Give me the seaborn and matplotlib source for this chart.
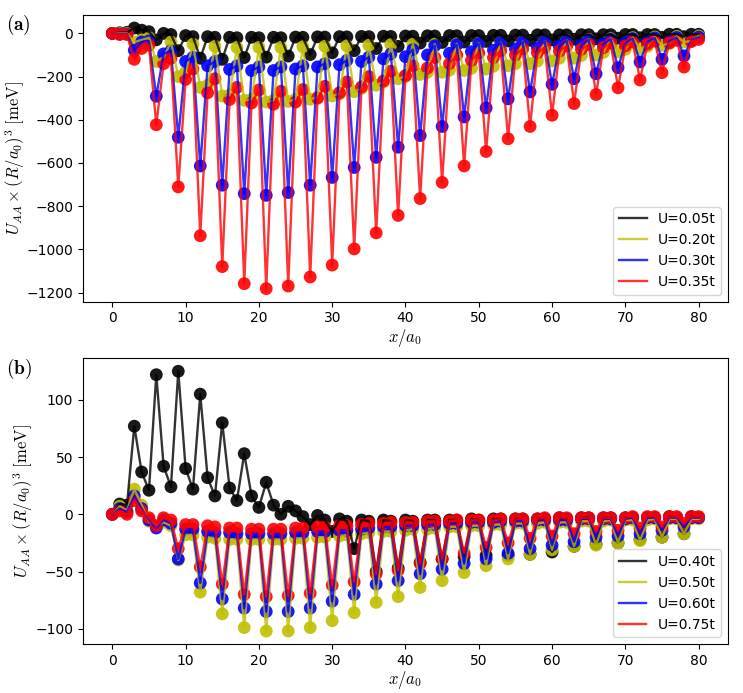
import numpy as np
import matplotlib
matplotlib.use("Agg")
import matplotlib.pyplot as plt
import seaborn as sns

plt.rcParams['mathtext.fontset'] = 'cm'

x = np.arange(81)

# panel (a)
labels_a = ["U=0.05t", "U=0.20t", "U=0.30t", "U=0.35t"]
u005 = [0, 3, 5, 25, 15, 8, -30, 0, -5, -80, -10, -15, -115, -15, -18, -120, -18, -20,
        -112, -18, -20, -110, -18, -20, -105, -17, -18, -98, -16, -17, -90, -15, -16,
        -80, -14, -15, -70, -13, -14, -60, -12, -13, -45, -11, -12, -42, -10, -11,
        -40, -10, -10, -37, -9, -9, -35, -8, -8, -32, -7, -7, -30, -7, -7, -27, -6, -6,
        -25, -6, -6, -22, -5, -5, -20, -5, -5, -18, -4, -4, -15, -4, -4]
u020 = [0, 0, 0, -40, -30, -20, -130, -110, -40, -200, -180, -50, -250, -240, -60,
        -290, -285, -65, -310, -305, -65, -318, -310, -65, -315, -305, -62, -305, -295,
        -60, -290, -280, -58, -270, -255, -55, -240, -225, -52, -210, -200, -50, -190,
        -180, -50, -180, -170, -48, -172, -162, -45, -165, -152, -42, -150, -140, -38,
        -140, -128, -35, -128, -115, -32, -115, -102, -28, -100, -88, -24, -85, -74, -20,
        -70, -60, -17, -55, -47, -14, -40, -35, -12]
u030 = [0, -3, -3, -78, -40, -35, -291, -95, -80, -481, -130, -110, -614, -150, -130,
        -703, -167, -150, -742, -172, -155, -750, -172, -155, -737, -165, -150, -703,
        -155, -140, -667, -145, -125, -621, -130, -110, -574, -118, -95, -527, -108, -75,
        -473, -100, -57, -431, -92, -52, -387, -85, -47, -345, -78, -43, -303, -72, -40,
        -271, -66, -36, -236, -60, -33, -210, -55, -30, -187, -50, -27, -159, -45, -24,
        -132, -40, -21, -120, -36, -19, -104, -32, -17]
u035 = [0, -5, -5, -120, -70, -55, -423, -140, -115, -711, -213, -165, -937, -275, -210,
        -1080, -306, -250, -1159, -322, -262, -1182, -328, -268, -1170, -318, -260, -1128,
        -300, -245, -1073, -275, -225, -998, -248, -200, -924, -220, -175, -843, -195,
        -150, -765, -160, -112, -690, -140, -100, -614, -125, -90, -547, -112, -80, -488,
        -100, -72, -431, -90, -65, -379, -82, -58, -325, -74, -52, -283, -66, -46, -252,
        -58, -40, -216, -50, -36, -182, -44, -32, -156, -38, -28]

# panel (b)
labels_b = ["U=0.40t", "U=0.50t", "U=0.60t", "U=0.75t"]
u040 = [0, 9, 8, 77, 37, 21, 122, 42, 24, 125, 40, 22, 105, 32, 16, 80, 23, 12, 53, 16,
        6, 28, 8, 0, 7, 3, -2, -9, -1, -5, -15, -4, -6, -30, -5, -6, -50, -5, -6, -47, -5,
        -6, -42, -5, -5, -39, -5, -5, -37, -4, -5, -36, -4, -4, -36, -4, -4, -35, -4, -4,
        -33, -3, -4, -28, -3, -3, -26, -3, -3, -25, -3, -3, -22, -3, -3, -20, -2, -3, -17,
        -2, -3]
u050 = [0, 7, 3, 22, 8, -6, -10, -7, -10, -40, -18, -18, -68, -20, -21, -87, -22, -22,
        -99, -22, -22, -102, -22, -22, -102, -21, -21, -99, -20, -20, -93, -19, -18, -86,
        -17, -16, -77, -15, -15, -72, -14, -13, -64, -13, -12, -58, -11, -11, -51, -10,
        -10, -45, -9, -9, -39, -8, -8, -35, -8, -7, -31, -7, -7, -28, -6, -6, -27, -6, -5,
        -25, -5, -5, -23, -5, -4, -20, -4, -4, -17, -4, -4]
u060 = [0, 5, 2, 16, 5, -5, -12, -5, -8, -39, -13, -13, -60, -15, -16, -74, -16, -17,
        -82, -17, -17, -85, -17, -17, -85, -16, -16, -82, -15, -15, -76, -14, -14, -70,
        -13, -12, -61, -11, -11, -58, -10, -10, -52, -9, -9, -48, -8, -8, -43, -7, -7, -39,
        -7, -6, -34, -6, -6, -30, -5, -5, -27, -5, -5, -24, -4, -4, -20, -4, -4, -19, -4,
        -3, -17, -3, -3, -14, -3, -3, -11, -3, -3]
u075 = [0, 3, 0, 12, 3, -3, -10, -3, -5, -30, -9, -9, -46, -10, -11, -61, -12, -12, -70,
        -13, -13, -72, -13, -13, -71, -12, -12, -69, -11, -11, -62, -10, -10, -59, -9, -8,
        -52, -8, -7, -49, -7, -7, -43, -6, -6, -39, -6, -5, -34, -5, -5, -29, -5, -4, -25,
        -4, -4, -21, -4, -3, -19, -3, -3, -17, -3, -3, -15, -3, -3, -14, -3, -2, -12, -2,
        -2, -11, -2, -2, -8, -2, -2]

colors = ["k", "y", "b", "r"]

fig = plt.figure(figsize=(7.43, 6.93), dpi=100)
ax1 = fig.add_axes([0.1117, 0.5647, 0.8681, 0.4137])
ax2 = fig.add_axes([0.1117, 0.0707, 0.8681, 0.4123])


def draw(ax, series, labels):
    for y, lab, c in zip(series, labels, colors):
        sns.lineplot(x=x, y=y, color=c, label=lab, lw=1.7, alpha=0.8, ax=ax)
        sns.scatterplot(x=x, y=y, color=c, s=85, alpha=0.9, edgecolor="none",
                        legend=False, ax=ax)
    ax.set_xlabel(r"$x/a_0$", fontsize=12, labelpad=1)
    ax.set_ylabel(r"$U_{AA}\times(R/a_0)^3\ [\mathrm{meV}]$", fontsize=12, labelpad=0)
    ax.set_xticks(range(0, 81, 10))
    ax.legend(loc="lower right", fontsize=10)


draw(ax1, [u005, u020, u030, u035], labels_a)
draw(ax2, [u040, u050, u060, u075], labels_b)
ax1.set_yticks(range(-1200, 1, 200))
ax2.set_yticks(range(-100, 101, 50))

fig.text(0.008, 0.964, r"$\mathbf{(a)}$", fontsize=14, va="center")
fig.text(0.008, 0.4675, r"$\mathbf{(b)}$", fontsize=14, va="center")

fig.savefig("out.png", dpi=100)
